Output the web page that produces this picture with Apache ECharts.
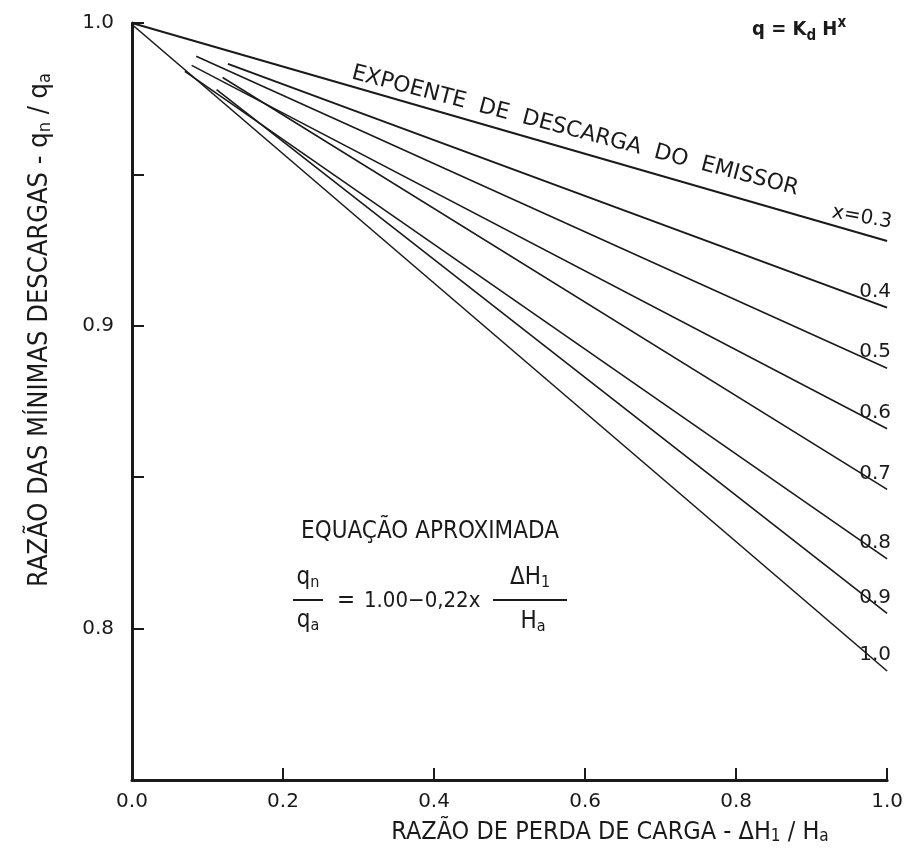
<!DOCTYPE html>
<html><head><meta charset="utf-8">
<script src="https://cdn.jsdelivr.net/npm/echarts@6/dist/echarts.min.js"></script>
<style>html,body{margin:0;padding:0;background:#fff}#c{width:906px;height:866px}</style>
</head><body><div id="c"></div>
<script>
// Exponent curves (x = emitter discharge exponent)
const exponents = ['0.3', '0.4', '0.5', '0.6', '0.7', '0.8', '0.9', '1.0'];
const lineLabels = ['x=0.3', '0.4', '0.5', '0.6', '0.7', '0.8', '0.9', '1.0'];
const startX = [0.000, 0.127, 0.085, 0.079, 0.120, 0.070, 0.112, 0.000];
const startY = [1.000, 0.9865, 0.989, 0.986, 0.982, 0.984, 0.978, 0.9995];
const endX   = [1.0, 1.0, 1.0, 1.0, 1.0, 1.0, 1.0, 1.0];
const endY   = [0.928, 0.906, 0.886, 0.866, 0.846, 0.823, 0.805, 0.786];
const yTickLabels = ['0.8', '0.9', '1.0'];

const FONT = '"DejaVu Sans Condensed", "Liberation Sans Narrow", "DejaVu Sans", sans-serif';
const NUMFONT = '"DejaVu Sans", sans-serif';

const chart = echarts.init(document.getElementById('c'), null, {renderer: 'canvas'});

const series = exponents.map((e, i) => ({
  name: 'x=' + e,
  type: 'line',
  symbol: 'circle',
  symbolSize: 0.01,
  showSymbol: true,
  silent: true,
  lineStyle: {color: '#1a1a1a', width: i < 2 ? 2 : 1.6},
  itemStyle: {color: '#1a1a1a'},
  data: [
    {value: [startX[i], startY[i]], label: {show: false}},
    {value: [endX[i], endY[i]], label: {
      show: true, formatter: lineLabels[i], position: 'top',
      offset: i === 0 ? [-28, -4] : [-12, -1],
      rotate: i === 0 ? -10 : 0,
      fontFamily: NUMFONT, fontSize: 20, color: '#1a1a1a'
    }}
  ]
}));

chart.setOption({
  backgroundColor: '#ffffff',
  animation: false,
  grid: {left: 132, right: 16, top: 23, bottom: 86, containLabel: false},
  xAxis: {
    type: 'value', min: 0, max: 1, interval: 0.2,
    axisLine: {show: true, lineStyle: {color: '#1a1a1a', width: 3}},
    axisTick: {show: true, inside: true, length: 12, lineStyle: {color: '#1a1a1a', width: 2}},
    axisLabel: {formatter: v => v.toFixed(1), fontFamily: NUMFONT, fontSize: 20, color: '#1a1a1a', margin: 12},
    splitLine: {show: false}
  },
  yAxis: {
    type: 'value', min: 0.75, max: 1.0, interval: 0.05,
    axisLine: {show: true, lineStyle: {color: '#1a1a1a', width: 3}},
    axisTick: {show: true, inside: true, length: 12, lineStyle: {color: '#1a1a1a', width: 2}},
    axisLabel: {
      formatter: v => { const s = v.toFixed(1); return (Math.abs(v * 10 - Math.round(v * 10)) < 1e-6 && yTickLabels.includes(s)) ? s : ''; },
      fontFamily: NUMFONT, fontSize: 20, color: '#1a1a1a', margin: 18
    },
    splitLine: {show: false}
  },
  graphic: [
    // Y axis title
    {type: 'text', x: 40, y: 330, rotation: Math.PI / 2,
      style: {text: 'RAZÃO DAS MÍNIMAS DESCARGAS - q{s|n} / q{s|a}', font: '27px ' + FONT, fill: '#1a1a1a',
        align: 'center', verticalAlign: 'middle',
        rich: {s: {font: '18px ' + FONT, fill: '#1a1a1a', padding: [11, 0, 0, 0]}}}},
    // X axis title
    {type: 'text', x: 610, y: 832,
      style: {text: 'RAZÃO DE PERDA DE CARGA - ΔH{s|1} / H{s|a}', font: '25px ' + FONT, fill: '#1a1a1a',
        align: 'center', verticalAlign: 'middle',
        rich: {s: {font: '17px ' + FONT, fill: '#1a1a1a', padding: [10, 0, 0, 0]}}}},
    // Curve family label
    {type: 'text', x: 575, y: 131, rotation: -0.256,
      style: {text: 'EXPOENTE  DE  DESCARGA  DO  EMISSOR', font: '22px "DejaVu Sans", sans-serif', fill: '#1a1a1a',
        align: 'center', verticalAlign: 'middle'}},
    // q = Kd H^x
    {type: 'text', x: 752, y: 30,
      style: {text: 'q = K{s|d} H{p|x}', font: 'bold 20px ' + FONT, fill: '#1a1a1a',
        align: 'left', verticalAlign: 'middle',
        rich: {s: {font: 'bold 15px ' + FONT, fill: '#1a1a1a', padding: [12, 0, 0, 0]},
               p: {font: 'bold 15px ' + FONT, fill: '#1a1a1a', padding: [0, 0, 14, 0]}}}},
    // Approximate equation
    {type: 'text', x: 430, y: 532,
      style: {text: 'EQUAÇÃO APROXIMADA', font: '24px ' + FONT, fill: '#1a1a1a', align: 'center', verticalAlign: 'middle'}},
    {type: 'text', x: 308, y: 578,
      style: {text: 'q{s|n}', font: '24px ' + FONT, fill: '#1a1a1a', align: 'center', verticalAlign: 'middle',
        rich: {s: {font: '16px ' + FONT, fill: '#1a1a1a', padding: [10, 0, 0, 0]}}}},
    {type: 'line', shape: {x1: 293, y1: 600, x2: 323, y2: 600}, style: {stroke: '#1a1a1a', lineWidth: 2}},
    {type: 'text', x: 308, y: 621,
      style: {text: 'q{s|a}', font: '24px ' + FONT, fill: '#1a1a1a', align: 'center', verticalAlign: 'middle',
        rich: {s: {font: '16px ' + FONT, fill: '#1a1a1a', padding: [10, 0, 0, 0]}}}},
    {type: 'text', x: 346, y: 601,
      style: {text: '=', font: '24px ' + FONT, fill: '#1a1a1a', align: 'center', verticalAlign: 'middle'}},
    {type: 'text', x: 364, y: 601,
      style: {text: '1.00−0,22x', font: '22px ' + FONT, fill: '#1a1a1a', align: 'left', verticalAlign: 'middle'}},
    {type: 'text', x: 530, y: 578,
      style: {text: 'ΔH{s|1}', font: '24px ' + FONT, fill: '#1a1a1a', align: 'center', verticalAlign: 'middle',
        rich: {s: {font: '16px ' + FONT, fill: '#1a1a1a', padding: [10, 0, 0, 0]}}}},
    {type: 'line', shape: {x1: 493, y1: 600, x2: 567, y2: 600}, style: {stroke: '#1a1a1a', lineWidth: 2}},
    {type: 'text', x: 533, y: 622,
      style: {text: 'H{s|a}', font: '24px ' + FONT, fill: '#1a1a1a', align: 'center', verticalAlign: 'middle',
        rich: {s: {font: '16px ' + FONT, fill: '#1a1a1a', padding: [10, 0, 0, 0]}}}}
  ],
  series: series
});
</script></body></html>
